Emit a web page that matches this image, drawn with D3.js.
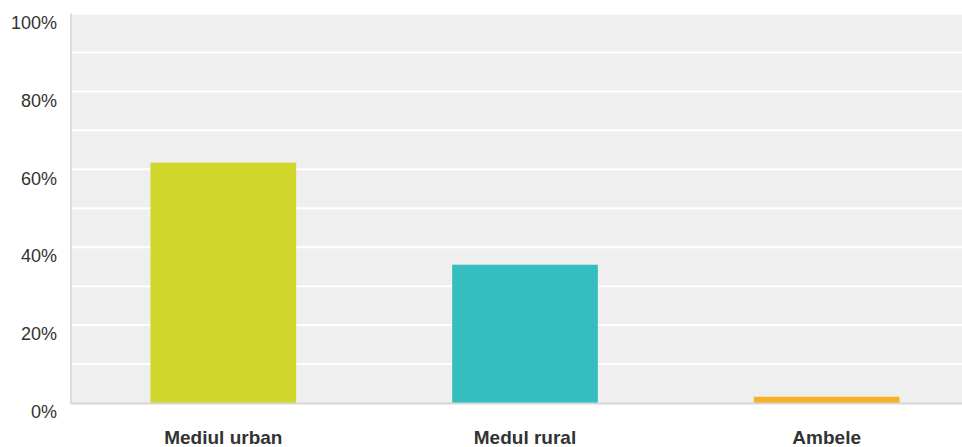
<!DOCTYPE html>
<html><head><meta charset="utf-8">
<script src="https://cdn.jsdelivr.net/npm/d3@7/dist/d3.min.js"></script>
<style>body{margin:0;background:#fff;}svg{display:block;font-family:"Liberation Sans",Arial,sans-serif;}</style>
</head><body>
<svg id="c" width="962" height="447"></svg>
<script>
const categories = ["Mediul urban", "Medul rural", "Ambele"];
const values = [61.7, 35.5, 1.6];
const colors = ["#d0d62a", "#35bec0", "#f7b123"];
const yTicks = [0, 20, 40, 60, 80, 100];
const yMinor = [10, 30, 50, 70, 90];

(function () {
const svg = d3.select("#c");
const pLeft = 71, pRight = 962, pTop = 13.5, pBottom = 403;
const y = d3.scaleLinear().domain([0, 100]).range([pBottom, pTop]);
const x = d3.scaleBand().domain(categories).range([72.5, 977.5]).paddingInner(0.517).paddingOuter(0.2585);

svg.append("rect").attr("x", pLeft).attr("y", pTop).attr("width", pRight - pLeft).attr("height", pBottom - pTop).attr("fill", "#efefef");

svg.append("g").selectAll("line").data(yTicks.concat(yMinor).filter(d => d > 0)).join("line")
  .attr("x1", pLeft).attr("x2", pRight).attr("y1", d => y(d)).attr("y2", d => y(d))
  .attr("stroke", "#ffffff").attr("stroke-width", 2);

svg.append("g").selectAll("rect").data(values).join("rect")
  .attr("x", (d, i) => x(categories[i])).attr("width", x.bandwidth())
  .attr("y", d => y(d)).attr("height", d => y(0) - y(d))
  .attr("fill", (d, i) => colors[i]);

svg.append("line").attr("x1", pLeft).attr("x2", pLeft).attr("y1", pTop).attr("y2", pBottom + 1)
  .attr("stroke", "#dcdcdc").attr("stroke-width", 2);
svg.append("line").attr("x1", pLeft).attr("x2", pRight).attr("y1", pBottom + 0.5).attr("y2", pBottom + 0.5)
  .attr("stroke", "#d6d6d6").attr("stroke-width", 2);

const yAxis = d3.axisLeft(y).tickValues(yTicks).tickFormat(d => d + "%").tickSize(0).tickPadding(0);
const ga = svg.append("g").attr("transform", "translate(57,9)").call(yAxis);
ga.select(".domain").remove();
ga.selectAll("text").attr("fill", "#333").style("font-size", "18px").style("font-family", "'Liberation Sans',Arial,sans-serif");

const xAxis = d3.axisBottom(x).tickSize(0).tickPadding(0);
const gx = svg.append("g").attr("transform", "translate(0,430)").call(xAxis);
gx.select(".domain").remove();
gx.selectAll("text").attr("fill", "#333").style("font-size", "19px").style("font-weight", "bold").style("font-family", "'Liberation Sans',Arial,sans-serif");
})();
</script>
</body></html>
